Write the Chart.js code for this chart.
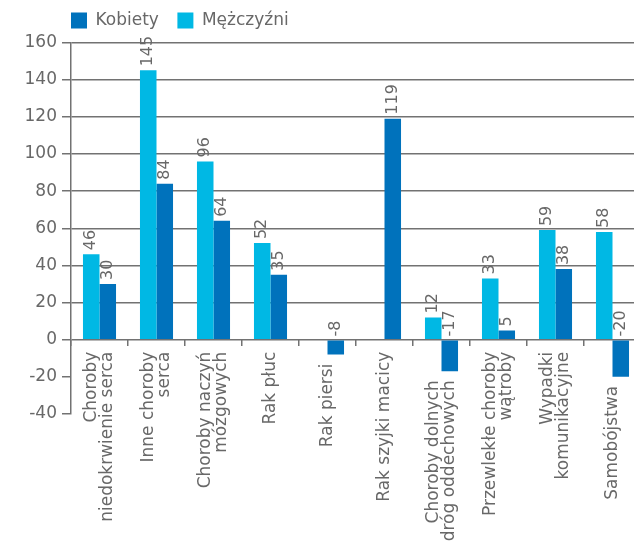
<!DOCTYPE html>
<html>
<head>
<meta charset="utf-8">
<script src="https://cdn.jsdelivr.net/npm/chart.js@4/dist/chart.umd.min.js"></script>
<style>
  html, body { margin:0; padding:0; background:#fff; overflow:hidden; }
  #chart { display:block; }
</style>
</head>
<body>
<canvas id="chart" width="641" height="550"></canvas>
<script>
// ---------- DATA ----------
const categories = [
  ['Choroby','niedokrwienie serca'],
  ['Inne choroby','serca'],
  ['Choroby naczyń','mózgowych'],
  ['Rak płuc'],
  ['Rak piersi'],
  ['Rak szyjki macicy'],
  ['Choroby dolnych','dróg oddechowych'],
  ['Przewlekłe choroby','wątroby'],
  ['Wypadki','komunikacyjne'],
  ['Samobójstwa']
];
const mezczyzni = [46, 145, 96, 52, null, null, 12, 33, 59, 58];
const kobiety   = [30, 84, 64, 35, -8, 119, -17, 5, 38, -20];
const yMin = -40, yMax = 160, yStep = 20;

const textColor = '#686868';
const lineColor = '#727272';
const font = '"DejaVu Sans", sans-serif';

// ---------- VALUE LABELS (rotated, above bar / zero line) ----------
const valueLabels = {
  id:'valueLabels',
  afterDatasetsDraw(chart){
    const ctx = chart.ctx;
    ctx.save();
    ctx.font = '16px ' + font;
    ctx.fillStyle = textColor;
    ctx.textAlign = 'left';
    ctx.textBaseline = 'middle';
    chart.data.datasets.forEach((ds,i)=>{
      chart.getDatasetMeta(i).data.forEach((bar,j)=>{
        const v = ds.data[j];
        if(v==null) return;
        const top = Math.min(bar.y, bar.base);
        ctx.save();
        ctx.translate(bar.x, top-4);
        ctx.rotate(-Math.PI/2);
        ctx.fillText(String(v),0,0);
        ctx.restore();
      });
    });
    ctx.restore();
  }
};

// ---------- CATEGORY LABELS (rotated, below zero / negative bars) ----------
const categoryLabels = {
  id:'categoryLabels',
  afterDraw(chart){
    const {ctx, scales:{x,y}} = chart;
    const zero = y.getPixelForValue(0);
    ctx.save();
    ctx.font = '17px ' + font;
    ctx.fillStyle = textColor;
    ctx.textAlign = 'right';
    ctx.textBaseline = 'middle';
    chart.data.labels.forEach((lines,i)=>{
      const low = Math.min(0, ...chart.data.datasets.map(d => d.data[i] ?? 0));
      const top = Math.max(zero+12, y.getPixelForValue(low)+9);
      const cx = x.getPixelForValue(i);
      lines.forEach((line,j)=>{
        ctx.save();
        ctx.translate(cx + (j-(lines.length-1)/2)*16.7, top);
        ctx.rotate(-Math.PI/2);
        ctx.fillText(line,0,0);
        ctx.restore();
      });
    });
    ctx.restore();
  }
};

// ---------- LEGEND OFFSET (legend starts over the y axis line) ----------
const legendOffset = {
  id:'legendOffset',
  afterLayout(chart){
    chart.legend.left += 28.5;
    chart.legend.top -= 3.5;
  }
};

// ---------- CHART ----------
new Chart(document.getElementById('chart'), {
  type:'bar',
  data:{
    labels: categories,
    datasets:[
      { label:'Mężczyźni', data:mezczyzni, backgroundColor:'#00b8e4', borderWidth:0 },
      { label:'Kobiety', data:kobiety, backgroundColor:'#0072bc', borderWidth:0 }
    ]
  },
  options:{
    responsive:false,
    animation:false,
    categoryPercentage:0.58,
    barPercentage:1,
    layout:{ padding:{ left:24, top:-3, right:0, bottom:136 } },
    plugins:{
      tooltip:{ enabled:false },
      legend:{
        position:'top',
        align:'start',
        reverse:true,
        labels:{ boxWidth:16, boxHeight:16, padding:18.5, color:textColor, font:{ family:font, size:17 } }
      }
    },
    scales:{
      x:{
        position:{ y:0 },
        afterFit: s => { s.height = 0; },
        ticks:{ display:false },
        grid:{ drawOnChartArea:false, drawTicks:true, tickLength:6, tickColor:lineColor, lineWidth:1.5 },
        border:{ display:false }
      },
      y:{
        min:yMin, max:yMax,
        afterFit: s => { s.width = 47; },
        ticks:{ stepSize:yStep, color:textColor, padding:5, font:{ family:font, size:17 } },
        grid:{
          color: c => c.tick && c.tick.value >= 0 ? lineColor : 'rgba(0,0,0,0)',
          tickColor:lineColor, tickLength:9, lineWidth:1.5
        },
        border:{ display:true, color:lineColor, width:1.5 }
      }
    }
  },
  plugins:[valueLabels, categoryLabels, legendOffset]
});
</script>
</body>
</html>
